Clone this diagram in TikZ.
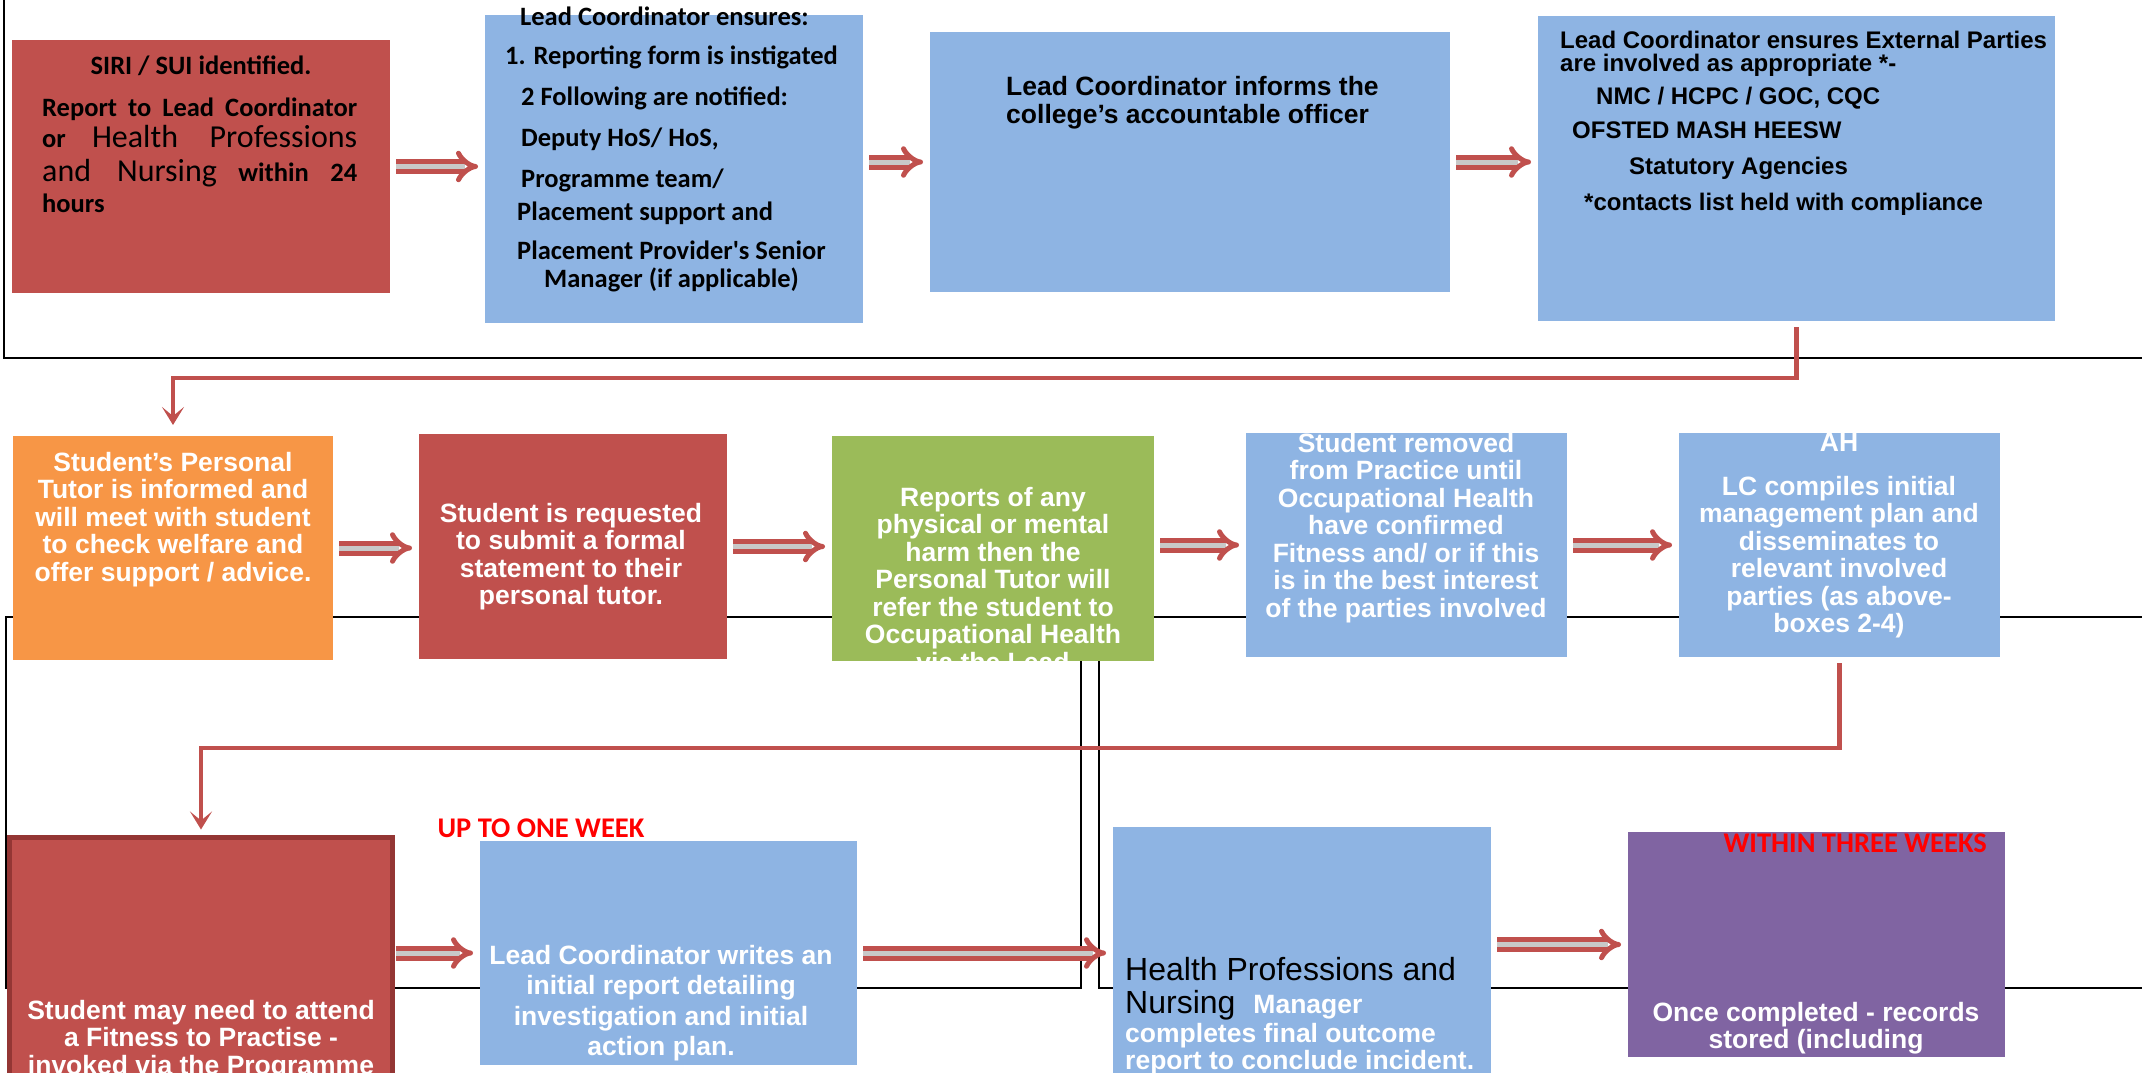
\documentclass[tikz,border=0pt]{standalone}
\usepackage{fontspec}
\setmainfont{Liberation Sans}
\newfontfamily\calib{Carlito}
\usetikzlibrary{arrows.meta, positioning}
\definecolor{cRed}{HTML}{C0504D}
\definecolor{cBlue}{HTML}{8EB4E3}
\definecolor{cOrange}{HTML}{F79646}
\definecolor{cGreen}{HTML}{9BBB59}
\definecolor{cPurple}{HTML}{8064A2}
\definecolor{cDark}{HTML}{943634}
\definecolor{cGrey}{HTML}{C8C8C8}
\def\wfont{\bfseries\fontsize{26.5}{27.5}\selectfont}
\def\cbfont{\calib\bfseries\fontsize{26.5}{28}\selectfont}
\def\hpfont{\mdseries\fontsize{32}{32}\selectfont}

\begin{document}
\begin{tikzpicture}[
    x=1pt, y=-1pt,
    box/.style={anchor=north west, inner sep=0pt, outer sep=0pt},
    sz/.style 2 args={minimum width=#1pt, minimum height=#2pt},
    txt/.style={inner sep=0pt, align=center, anchor=north, font=\wfont, text=white},
    frame/.style={draw=black, line width=1.8pt},
    blk/.style={draw=cRed, line width=5pt, double=cGrey, double distance=5pt,
        -{Implies}, shorten <=6pt, shorten >=7pt},
    conn/.style={draw=cRed, line width=4.5pt,
        -{Stealth[length=18pt,width=22pt,inset=9pt]}}
]
\useasboundingbox (0,0) rectangle (2142,1073);

% frames behind the boxes
\draw[frame] (4,-10) -- (4,358) -- (2160,358);
\draw[frame] (6,617) rectangle (1081,988);
\draw[frame] (1099,617) rectangle (2170,988);

% row 1
\node[box, sz={378}{253}, fill=cRed] (b1) at (12,40) {};
\node[box, sz={378}{308}, fill=cBlue] (b2) at (485,15) {};
\node[box, sz={520}{260}, fill=cBlue] (b3) at (930,32) {};
\node[box, sz={517}{305}, fill=cBlue] (b4) at (1538,16) {};

\node[txt, font=\cbfont, text=black] (t1a) at (201,56) {SIRI / SUI identified.};
\node[anchor=base west, inner sep=0pt, font=\cbfont] (t1b) at (42,116)
    {\makebox[315pt][s]{Report to Lead Coordinator}};
\node[anchor=base west, inner sep=0pt, font=\cbfont] (t1c) at (42,147)
    {\makebox[315pt][s]{or {\hpfont Health Professions}}};
\node[anchor=base west, inner sep=0pt, font=\cbfont] (t1d) at (42,181)
    {\makebox[315pt][s]{{\hpfont and Nursing} within 24}};
\node[anchor=base west, inner sep=0pt, font=\cbfont] (t1e) at (42,212) {hours};

\node[txt, font=\cbfont, text=black, align=left, anchor=north west] (t2) at (505,7) {%
    \hspace*{15pt}Lead Coordinator ensures:\\[11pt]
    1. Reporting form is instigated\\[13pt]
    \hspace*{16pt}2 Following are notified:\\[13pt]
    \hspace*{16pt}Deputy HoS/ HoS,\\[13pt]
    \hspace*{16pt}Programme team/\\[5pt]
    \hspace*{12pt}Placement support and\\[11pt]
    \hspace*{12pt}Placement Provider's Senior\\
    \hspace*{39pt}Manager (if applicable)};

\node[txt, text=black, align=left, anchor=north west,
    font=\bfseries\fontsize{26.5}{28}\selectfont] (t3) at (1006,76)
    {Lead Coordinator informs the\\college’s accountable officer};

\node[txt, text=black, align=left, anchor=north west,
    font=\bfseries\fontsize{24}{23}\selectfont] (t4) at (1560,31) {%
    Lead Coordinator ensures External Parties\\
    are involved as appropriate *-\\[10pt]
    \hspace*{36pt}NMC / HCPC / GOC, CQC\\[11pt]
    \hspace*{12pt}OFSTED MASH HEESW\\[13pt]
    \hspace*{69pt}Statutory Agencies\\[13pt]
    \hspace*{24pt}*contacts list held with compliance};

% row 2
\node[box, sz={320}{224}, fill=cOrange] (b5) at (13,436) {};
\node[box, sz={308}{225}, fill=cRed] (b6) at (419,434) {};
\node[box, sz={322}{225}, fill=cGreen] (b7) at (832,436) {};
\node[box, sz={321}{224}, fill=cBlue] (b8) at (1246,433) {};
\node[box, sz={321}{224}, fill=cBlue] (b9) at (1679,433) {};

\node[txt] (t5) at (173,452) {Student's Personal\\Tutor is informed and\\will meet with student\\
    to check welfare and\\offer support / advice.};
\node[txt] (t6) at (571,503) {Student is requested\\to submit a formal\\statement to their\\personal tutor.};
\begin{scope}
\clip (b7.north west) rectangle (b7.south east);
\node[txt] (t7) at (993,487) {Reports of any\\physical or mental\\harm then the\\Personal Tutor will\\
    refer the student to\\Occupational Health\\via the Lead};
\end{scope}
\node[txt] (t8) at (1406,433) {Student removed\\from Practice until\\Occupational Health\\have confirmed\\
    Fitness and/ or if this\\is in the best interest\\of the parties involved};
\node[txt] (t9) at (1839,433) {AH\\[16.5pt]LC compiles initial\\management plan and\\disseminates to\\
    relevant involved\\parties (as above-\\boxes 2-4)};

% row 3
\node[box, sz={383}{260}, fill=cRed, draw=cDark, line width=5pt] (b10) at (9.5,837.5) {};
\node[box, sz={377}{224}, fill=cBlue] (b11) at (480,841) {};
\node[box, sz={378}{260}, fill=cBlue] (b12) at (1113,827) {};
\node[box, sz={377}{225}, fill=cPurple] (b13) at (1628,832) {};

\node[inner sep=0pt, text=red, font=\calib\bfseries\fontsize{28.5}{30}\selectfont] (l1)
    at (541,828) {UP TO ONE WEEK};
\node[inner sep=0pt, anchor=east, text=red, font=\calib\bfseries\fontsize{28.5}{30}\selectfont] (l2)
    at (1987,843) {WITHIN THREE WEEKS};

\node[txt] (t10) at (201,1000) {Student may need to attend\\a Fitness to Practise -\\invoked via the Programme};
\node[txt, font=\bfseries\fontsize{26.5}{30.5}\selectfont] (t11) at (661,945)
    {Lead Coordinator writes an\\initial report detailing\\investigation and initial\\action plan.};
\node[anchor=base west, inner sep=0pt, font=\hpfont] (t12a) at (1125,980) {Health Professions and};
\node[anchor=base west, inner sep=0pt, font=\hpfont] (t12b) at (1125,1013)
    {Nursing\hspace{18pt}{\wfont\color{white}Manager}};
\node[anchor=base west, inner sep=0pt, font=\wfont, text=white] (t12c) at (1125,1042) {completes final outcome};
\node[anchor=base west, inner sep=0pt, font=\wfont, text=white] (t12d) at (1125,1069) {report to conclude incident.};
\node[txt] (t13) at (1816,1002) {Once completed - records\\stored (including};

% block arrows
\draw[blk] (b1.east) -- (b1.east -| b2.west);
\draw[blk] (b3.west -| b2.east) -- (b3.west);
\draw[blk] (b3.east) -- (b3.east -| b4.west);
\draw[blk] (b5.east) -- (b5.east -| b6.west);
\draw[blk] (b6.east) -- (b6.east -| b7.west);
\draw[blk] (b8.west -| b7.east) -- (b8.west);
\draw[blk] (b8.east) -- (b8.east -| b9.west);
\draw[blk, shorten <=3pt] (b11.west -| b10.east) -- (b11.west);
\draw[blk] (b11.east) -- (b11.east -| b12.west);
\draw[blk] (b13.west -| b12.east) -- (b13.west);

% elbow connectors between rows
\draw[conn, shorten <=6pt, shorten >=11pt] (b4.south) -- ++(0,57) -| (b5.north);
\draw[conn, shorten <=6pt, shorten >=8pt] (b9.south) -- ++(0,91) -| (b10.north);
\end{tikzpicture}
\end{document}
